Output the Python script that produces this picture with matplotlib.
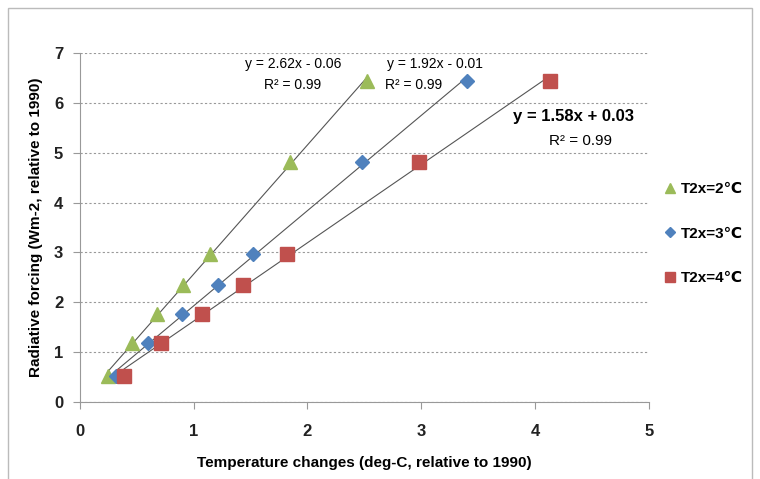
import numpy as np
import matplotlib
matplotlib.use("Agg")
import matplotlib.pyplot as plt
from matplotlib.patches import Rectangle

plt.rcParams['font.family'] = ['Liberation Sans', 'DejaVu Sans']

# radiative forcing values (shared by all three series)
forcing = [0.52, 1.18, 1.77, 2.35, 2.97, 4.82, 6.44]
# temperature changes for each climate sensitivity
temp_2c = [0.25, 0.46, 0.68, 0.91, 1.14, 1.85, 2.52]
temp_3c = [0.32, 0.60, 0.90, 1.21, 1.52, 2.48, 3.40]
temp_4c = [0.39, 0.71, 1.07, 1.43, 1.82, 2.98, 4.13]

labels = ["T2x=2\u2103", "T2x=3\u2103", "T2x=4\u2103"]
colors = ["#9BBB59", "#4F81BD", "#C0504D"]
markers = ["^", "D", "s"]
sizes = [10, 7, 10]

fig = plt.figure(figsize=(7.6, 4.79), dpi=100)
ax = fig.add_axes([0.105, 0.161, 0.749, 0.728])

for xs, lab, c, m, s in zip([temp_2c, temp_3c, temp_4c], labels, colors, markers, sizes):
    ax.plot(xs, forcing, linestyle="none", marker=m, markersize=s, color=c, label=lab)
    # linear trendline over data range
    k, b = np.polyfit(xs, forcing, 1)
    xx = np.array([min(xs), max(xs)])
    ax.plot(xx, k * xx + b, color="#555555", lw=0.8, zorder=1)

ax.set_xlim(0, 5)
ax.set_ylim(0, 7)
ax.set_xticks(range(0, 6))
ax.set_yticks(range(0, 8))
ax.tick_params(labelsize=12, colors="#999999", labelcolor="#222222", length=5, direction="out")
ax.tick_params(axis="x", pad=11)
ax.tick_params(axis="y", pad=7)
for t in ax.get_xticklabels() + ax.get_yticklabels():
    t.set_fontweight("bold")
ax.yaxis.grid(True, linestyle=(0, (2, 2)), color="#999999", lw=0.8)
ax.set_axisbelow(True)
for sp in ["top", "right"]:
    ax.spines[sp].set_visible(False)
for sp in ["left", "bottom"]:
    ax.spines[sp].set_color("#999999")

ax.set_xlabel("Temperature changes (deg-C, relative to 1990)", fontsize=11, fontweight="bold", labelpad=12)
ax.set_ylabel("Radiative forcing (Wm-2, relative to 1990)", fontsize=11, fontweight="bold", labelpad=8)

# trendline equations
ax.text(1.87, 6.78, "y = 2.62x - 0.06", ha="center", va="center", fontsize=10)
ax.text(1.87, 6.37, "R\u00b2 = 0.99", ha="center", va="center", fontsize=10)
ax.text(3.12, 6.78, "y = 1.92x - 0.01", ha="center", va="center", fontsize=10)
ax.text(2.93, 6.37, "R\u00b2 = 0.99", ha="center", va="center", fontsize=10)
ax.text(4.34, 5.72, "y = 1.58x + 0.03", ha="center", va="center", fontsize=12, fontweight="bold")
ax.text(4.40, 5.23, "R\u00b2 = 0.99", ha="center", va="center", fontsize=11)

leg = ax.legend(loc="upper left", bbox_to_anchor=(1.0, 0.67), frameon=False,
                prop={"size": 11, "weight": "bold"}, markerscale=0.75,
                handletextpad=0.2, labelspacing=2.0, handlelength=1.0)

fig.patches.append(Rectangle((0.0105, -0.02), 0.979, 1.003, transform=fig.transFigure,
                             fill=False, edgecolor="#BBBBBB", lw=1))

fig.savefig("out.png", dpi=100)
